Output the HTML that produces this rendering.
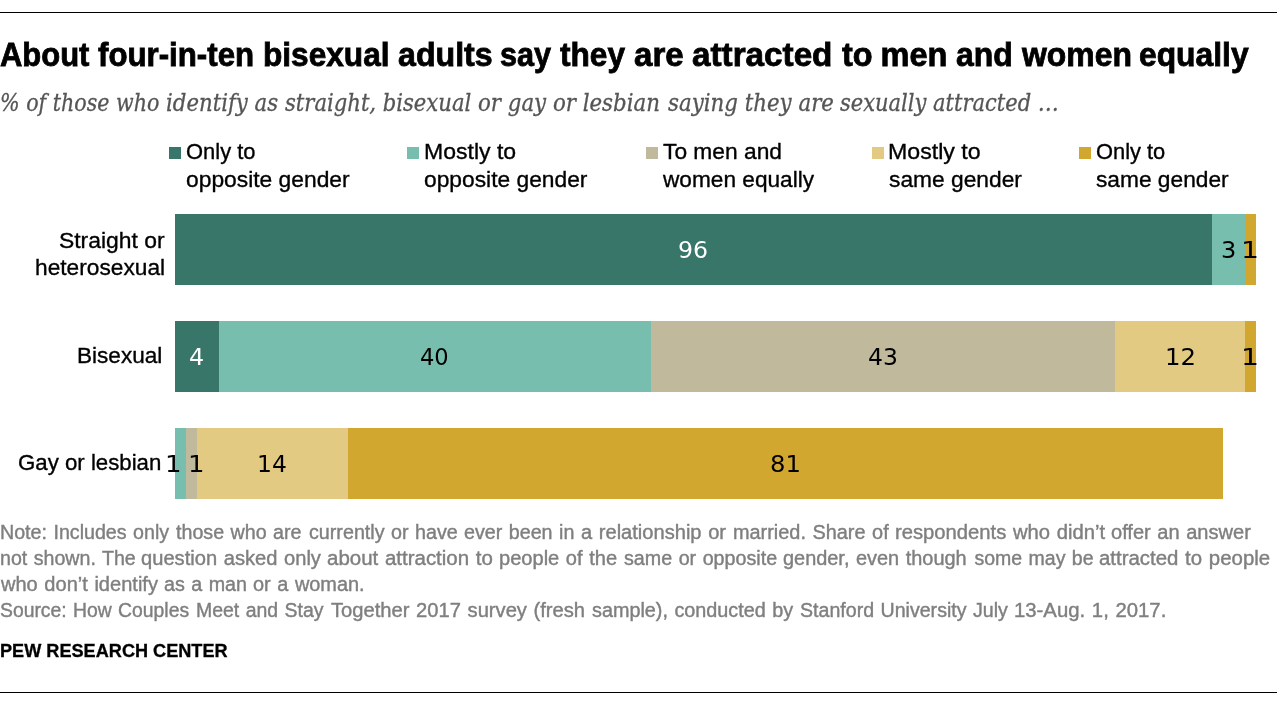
<!DOCTYPE html>
<html lang="en">
<head>
<meta charset="utf-8">
<title>About four-in-ten bisexual adults say they are attracted to men and women equally</title>
<style>
html,body{margin:0;padding:0;background:#fff}
body{width:1280px;height:704px;position:relative;overflow:hidden;font-family:"Liberation Sans",sans-serif;font-size:22.8px;color:#000}
h1,p,ul,li,figure,div{margin:0;padding:0}
ul{list-style:none}
h1{font-size:inherit}
.t{position:absolute;white-space:nowrap;line-height:1;transform-origin:0 0;font-weight:400;font-style:normal}
.rule{position:absolute;left:0;width:1277px;height:1px;background:#000}
.sq{position:absolute;width:12px;height:12px;top:147px}
.seg{position:absolute;height:71px}
.ti{font-weight:700;font-size:32.5px;-webkit-text-stroke:0.8px currentColor}
.su{font-family:'DejaVu Serif Condensed', 'DejaVu Serif', 'Liberation Serif', serif;font-style:italic;color:#555;font-size:25px;-webkit-text-stroke:0.3px currentColor}
.lb{-webkit-text-stroke:0.35px currentColor}
.nu{font-family:'DejaVu Sans', 'Liberation Sans', sans-serif;font-size:23.0px}
.no{color:#7f7f7f;font-size:19.5px;-webkit-text-stroke:0.4px currentColor;word-spacing:1.0px}
.pw{font-weight:700;font-size:17.7px;-webkit-text-stroke:0.3px currentColor}
.c1{background:#377668}.c2{background:#77beaf}.c3{background:#c1b99c}.c4{background:#e2ca83}.c5{background:#d2a730}
</style>
</head>
<body>
<div class="rule" style="top:12px"></div>
<h1 class="title">
<span class="t ti" style="left:-0.45px;top:38.75px;transform:scaleX(0.9527)">About</span>
<span class="t ti" style="left:98.10px;top:38.75px;transform:scaleX(0.9609)">four-in-ten</span>
<span class="t ti" style="left:262.85px;top:38.75px;transform:scaleX(0.9730)">bisexual</span>
<span class="t ti" style="left:397.91px;top:38.75px;transform:scaleX(0.9894)">adults</span>
<span class="t ti" style="left:500.16px;top:38.75px;transform:scaleX(0.9415)">say</span>
<span class="t ti" style="left:560.20px;top:38.75px;transform:scaleX(0.9731)">they</span>
<span class="t ti" style="left:634.18px;top:38.75px;transform:scaleX(1.0170)">are</span>
<span class="t ti" style="left:691.98px;top:38.75px;transform:scaleX(1.0230)">attracted</span>
<span class="t ti" style="left:841.90px;top:38.75px;transform:scaleX(0.9967)">to</span>
<span class="t ti" style="left:880.60px;top:38.75px;transform:scaleX(1.0000)">men</span>
<span class="t ti" style="left:955.82px;top:38.75px;transform:scaleX(0.9836)">and</span>
<span class="t ti" style="left:1021.60px;top:38.75px;transform:scaleX(0.9818)">women</span>
<span class="t ti" style="left:1138.92px;top:38.75px;transform:scaleX(0.9784)">equally</span>
</h1>
<p class="subtitle">
<span class="t su" style="left:0.17px;top:89.60px;transform:scaleX(0.9167)">% of those who</span>
<span class="t su" style="left:166.06px;top:89.60px;transform:scaleX(0.9444)">identify as</span>
<span class="t su" style="left:285.00px;top:89.60px;transform:scaleX(0.9391)">straight, bisexual</span>
<span class="t su" style="left:477.80px;top:89.60px;transform:scaleX(0.9474)">or gay or lesbian</span>
<span class="t su" style="left:667.50px;top:89.60px;transform:scaleX(0.9483)">saying they are</span>
<span class="t su" style="left:840.00px;top:89.60px;transform:scaleX(0.9343)">sexually attracted …</span>
</p>
<ul class="legend">
<li><i class="sq c1" style="left:169px"></i><span class="t lb" style="left:185.59px;top:139.90px;transform:scaleX(0.9621)">Only to</span> <span class="t lb" style="left:185.55px;top:167.60px;transform:scaleX(1.0009)">opposite gender</span></li>
<li><i class="sq c2" style="left:407px"></i><span class="t lb" style="left:423.58px;top:139.90px;transform:scaleX(1.0102)">Mostly to</span> <span class="t lb" style="left:424.00px;top:167.60px;transform:scaleX(0.9994)">opposite gender</span></li>
<li><i class="sq c3" style="left:646px"></i><span class="t lb" style="left:663.10px;top:139.90px;transform:scaleX(0.9987)">To men and</span> <span class="t lb" style="left:663.10px;top:167.60px;transform:scaleX(0.9934)">women equally</span></li>
<li><i class="sq c4" style="left:872px"></i><span class="t lb" style="left:888.27px;top:139.90px;transform:scaleX(1.0159)">Mostly to</span> <span class="t lb" style="left:888.50px;top:167.60px;transform:scaleX(0.9992)">same gender</span></li>
<li><i class="sq c5" style="left:1079px"></i><span class="t lb" style="left:1096.04px;top:139.90px;transform:scaleX(0.9586)">Only to</span> <span class="t lb" style="left:1095.55px;top:167.60px;transform:scaleX(0.9966)">same gender</span></li>
</ul>
<div class="bars">
<div class="row">
<div class="label"><span class="t lb" style="left:59.05px;top:228.75px;transform:scaleX(1.0038)">Straight or</span> <span class="t lb" style="left:34.90px;top:255.75px;transform:scaleX(0.9965)">heterosexual</span></div>
<div class="seg c1" style="left:175px;top:214px;width:1037px"></div>
<div class="seg c2" style="left:1212px;top:214px;width:33px"></div>
<div class="seg c5" style="left:1245px;top:214px;width:11px"></div>
<span class="t nu" style="color:#fff;left:678.10px;top:239.00px;transform:scaleX(1.0269)">96</span>
<span class="t nu" style="left:1220.56px;top:239.00px;transform:scaleX(1.0455)">3</span>
<span class="t nu" style="left:1241.26px;top:239.00px;transform:scaleX(1.2300)">1</span>
</div>
<div class="row">
<div class="label"><span class="t lb" style="left:76.82px;top:343.75px;transform:scaleX(0.9898)">Bisexual</span></div>
<div class="seg c1" style="left:175px;top:321px;width:44px"></div>
<div class="seg c2" style="left:219px;top:321px;width:432px"></div>
<div class="seg c3" style="left:651px;top:321px;width:464px"></div>
<div class="seg c4" style="left:1115px;top:321px;width:130px"></div>
<div class="seg c5" style="left:1245px;top:321px;width:11px"></div>
<span class="t nu" style="color:#fff;left:189.02px;top:346.00px;transform:scaleX(1.0333)">4</span>
<span class="t nu" style="left:420.27px;top:346.00px;transform:scaleX(0.9815)">40</span>
<span class="t nu" style="left:868.23px;top:346.00px;transform:scaleX(1.0192)">43</span>
<span class="t nu" style="left:1164.58px;top:346.00px;transform:scaleX(1.0583)">12</span>
<span class="t nu" style="left:1241.26px;top:346.00px;transform:scaleX(1.2300)">1</span>
</div>
<div class="row">
<div class="label"><span class="t lb" style="left:18.32px;top:451.00px;transform:scaleX(0.9752)">Gay or lesbian</span></div>
<div class="seg c2" style="left:175px;top:428px;width:11px"></div>
<div class="seg c3" style="left:186px;top:428px;width:11px"></div>
<div class="seg c4" style="left:197px;top:428px;width:151px"></div>
<div class="seg c5" style="left:348px;top:428px;width:875px"></div>
<span class="t nu" style="left:164.66px;top:453.00px;transform:scaleX(1.1300)">1</span>
<span class="t nu" style="left:188.46px;top:453.00px;transform:scaleX(1.1300)">1</span>
<span class="t nu" style="left:257.15px;top:453.00px;transform:scaleX(1.0180)">14</span>
<span class="t nu" style="left:770.24px;top:453.00px;transform:scaleX(1.0560)">81</span>
</div>
</div>
<p class="note">
<span class="t no" style="left:0.24px;top:523.00px;transform:scaleX(1.0075)">Note: Includes only</span>
<span class="t no" style="left:176.25px;top:523.00px;transform:scaleX(1.0081)">those who are</span>
<span class="t no" style="left:308.99px;top:523.00px;transform:scaleX(1.0103)">currently or have</span>
<span class="t no" style="left:463.99px;top:523.00px;transform:scaleX(1.0093)">ever been in</span>
<span class="t no" style="left:580.97px;top:523.00px;transform:scaleX(1.0304)">a relationship or</span>
<span class="t no" style="left:732.73px;top:523.00px;transform:scaleX(1.0197)">married. Share of</span>
<span class="t no" style="left:894.96px;top:523.00px;transform:scaleX(1.0371)">respondents who didn’t</span>
<span class="t no" style="left:1111.47px;top:523.00px;transform:scaleX(1.0278)">offer an answer</span>
<span class="t no" style="left:0.24px;top:549.10px;transform:scaleX(1.0056)">not shown. The</span>
<span class="t no" style="left:140.97px;top:549.10px;transform:scaleX(1.0318)">question asked only</span>
<span class="t no" style="left:326.70px;top:549.10px;transform:scaleX(1.0494)">about attraction to</span>
<span class="t no" style="left:498.97px;top:549.10px;transform:scaleX(1.0288)">people of the</span>
<span class="t no" style="left:623.75px;top:549.10px;transform:scaleX(1.0099)">same or opposite</span>
<span class="t no" style="left:782.73px;top:549.10px;transform:scaleX(1.0211)">gender, even though</span>
<span class="t no" style="left:974.50px;top:549.10px;transform:scaleX(1.0000)">some may be</span>
<span class="t no" style="left:1099.45px;top:549.10px;transform:scaleX(1.0463)">attracted to people</span>
<span class="t no" style="left:0.75px;top:575.20px;transform:scaleX(1.0278)">who don’t identify</span>
<span class="t no" style="left:164.49px;top:575.20px;transform:scaleX(1.0094)">as a man</span>
<span class="t no" style="left:252.73px;top:575.20px;transform:scaleX(1.0210)">or a woman.</span>
</p>
<p class="source">
<span class="t no" style="left:0.26px;top:601.30px;transform:scaleX(0.9921)">Source: How Couples</span>
<span class="t no" style="left:196.00px;top:601.30px;transform:scaleX(0.9980)">Meet and Stay</span>
<span class="t no" style="left:331.25px;top:601.30px;transform:scaleX(1.0337)">Together 2017 survey (fresh</span>
<span class="t no" style="left:592.00px;top:601.30px;transform:scaleX(1.0152)">sample), conducted by</span>
<span class="t no" style="left:799.50px;top:601.30px;transform:scaleX(1.0049)">Stanford University July</span>
<span class="t no" style="left:1014.46px;top:601.30px;transform:scaleX(1.0417)">13-Aug. 1, 2017.</span>
</p>
<p class="brand"><span class="t pw" style="left:-0.02px;top:642.60px;transform:scaleX(1.0249)">PEW RESEARCH CENTER</span></p>
<div class="rule" style="top:692px"></div>
</body>
</html>
